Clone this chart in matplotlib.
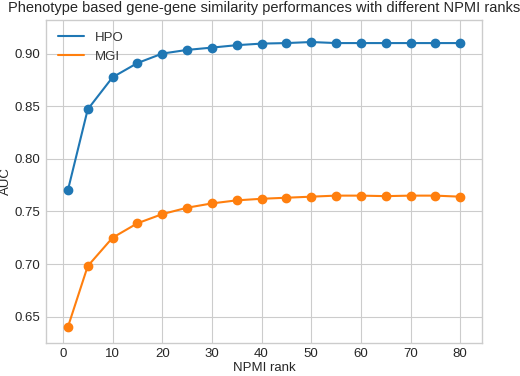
import matplotlib
matplotlib.use('Agg')
import matplotlib.pyplot as plt

ranks = [1, 5, 10, 15, 20, 25, 30, 35, 40, 45, 50, 55, 60, 65, 70, 75, 80]
hpo = [0.770, 0.847, 0.8775, 0.891, 0.900, 0.9035, 0.9057, 0.908, 0.9095, 0.910,
       0.911, 0.910, 0.910, 0.910, 0.910, 0.910, 0.910]
mgi = [0.640, 0.698, 0.725, 0.7387, 0.7474, 0.7535, 0.7576, 0.7605, 0.762, 0.763,
       0.764, 0.765, 0.765, 0.7645, 0.765, 0.765, 0.764]

plt.style.use('seaborn-v0_8-whitegrid')
plt.rcParams['font.family'] = ['Liberation Sans', 'DejaVu Sans']

fig = plt.figure(figsize=(5.2, 3.76), dpi=100)
ax = fig.add_axes([0.0885, 0.088, 0.8385, 0.859])

ax.plot(ranks, hpo, '-o', color='#1f77b4', lw=1.5, ms=6, label='HPO')
ax.plot(ranks, mgi, '-o', color='#ff7f0e', lw=1.5, ms=6, label='MGI')

ax.set_xlim(-3.4, 84.4)
ax.set_ylim(0.625, 0.932)
ax.set_xticks(range(0, 81, 10))
ax.set_yticks([0.65, 0.70, 0.75, 0.80, 0.85, 0.90])
ax.tick_params(labelsize=9.5, colors='#262626', pad=4)
ax.set_xlabel('NPMI rank', fontsize=9.5, labelpad=1)
ax.set_ylabel('AUC', fontsize=9.5, labelpad=2)
ax.set_title('Phenotype based gene-gene similarity performances with different NPMI ranks',
             fontsize=10.5)
for s in ax.spines.values():
    s.set_visible(True)
    s.set_color('#cccccc')
leg = ax.legend(loc='upper left', fontsize=9.5, frameon=False)
for l in leg.get_lines():
    l.set_marker('')
for t in leg.get_texts():
    t.set_color('#333333')

fig.savefig('out.png', dpi=100)
